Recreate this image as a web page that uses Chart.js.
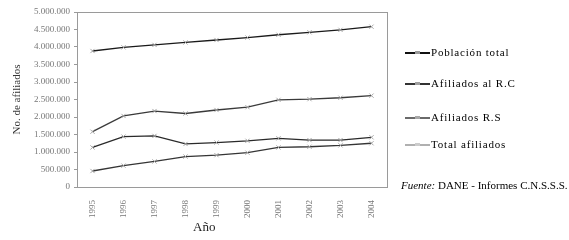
<!DOCTYPE html>
<html>
<head>
<meta charset="utf-8">
<script src="https://cdn.jsdelivr.net/npm/chart.js@4"></script>
<style>
  html, body { margin: 0; padding: 0; background: #fff; }
  #wrap { position: relative; width: 569px; height: 240px; font-family: "Liberation Serif", "DejaVu Serif", serif; color: #000; }
  #chart { position: absolute; left: 0; top: 0; }
  .leg { position: absolute; left: 405px; font-size: 11px; line-height: 12px; letter-spacing: 0.8px; white-space: nowrap; }
  .leg .sw { display: inline-block; position: relative; width: 25px; height: 12px; vertical-align: top; margin-right: 1px; }
  .leg .sw i { position: absolute; top: 6px; height: 2px; width: 10px; }
  .leg .sw b { position: absolute; top: 5px; left: 10px; width: 5px; height: 3px; }
  #xtitle { position: absolute; left: 193px; top: 219px; font-size: 13px; color: #222; }
  #fuente { position: absolute; left: 401px; top: 179px; font-size: 11px; white-space: nowrap; }
</style>
</head>
<body>
<div id="wrap">
  <canvas id="chart" width="569" height="240"></canvas>
  <div id="legend"></div>
  <div id="xtitle">Año</div>
  <div id="fuente"><i>Fuente:</i> DANE - Informes C.N.S.S.S.</div>
</div>
<script>
// === DATOS ===
const years = ['1995', '1996', '1997', '1998', '1999', '2000', '2001', '2002', '2003', '2004'];
const seriesNames = ['Población total', 'Afiliados al R.C', 'Afiliados R.S', 'Total afiliados'];
const poblacionTotal = [3886000, 3990000, 4060000, 4130000, 4200000, 4270000, 4350000, 4420000, 4490000, 4580000];
const afiliadosRC = [1130000, 1440000, 1460000, 1230000, 1270000, 1320000, 1390000, 1340000, 1340000, 1420000];
const afiliadosRS = [457000, 610000, 730000, 870000, 910000, 980000, 1130000, 1150000, 1190000, 1250000];
const totalAfiliados = [1580000, 2030000, 2170000, 2100000, 2200000, 2280000, 2490000, 2510000, 2550000, 2610000];
const yTickStep = 500000;
const yMax = 5000000;

const lineColors = ['#1a1a1a', '#2a2a2a', '#353535', '#3a3a3a'];
const legendLine = ['#111111', '#333333', '#6a6a6a', '#b0b0b0'];
const legendMark = ['#9a9a9a', '#a0a0a0', '#a8a8a8', '#cccccc'];
const legendTops = [46, 77, 111, 138];

const fmt = (v) => String(v).replace(/\B(?=(\d{3})+(?!\d))/g, '.');

// caja alrededor del area del grafico
const boxPlugin = {
    id: 'box',
    beforeDatasetsDraw(chart) {
        const { ctx, chartArea: a } = chart;
        ctx.save();
        ctx.strokeStyle = '#9a9a9a';
        ctx.lineWidth = 1;
        ctx.strokeRect(a.left + 0.5, a.top + 0.5, a.right - a.left, a.bottom - a.top);
        ctx.restore();
    }
};

const allSeries = [poblacionTotal, afiliadosRC, afiliadosRS, totalAfiliados];

new Chart(document.getElementById('chart'), {
    type: 'line',
    data: {
        labels: years,
        datasets: allSeries.map((vals, i) => ({
            label: seriesNames[i],
            data: vals,
            borderColor: lineColors[i],
            borderWidth: 1.3,
            tension: 0,
            pointStyle: 'crossRot',
            pointRadius: 3,
            pointBorderColor: '#a8a8a8',
            pointBorderWidth: 1,
            fill: false
        }))
    },
    options: {
        responsive: false,
        animation: false,
        layout: { padding: { top: 12, right: 182, bottom: 0, left: 0 } },
        plugins: {
            legend: { display: false },
            tooltip: { enabled: false }
        },
        scales: {
            x: {
                offset: true,
                grid: { display: false },
                border: { display: false },
                ticks: {
                    autoSkip: false,
                    minRotation: 90,
                    maxRotation: 90,
                    padding: 5,
                    color: '#777',
                    font: { family: 'Liberation Serif', size: 9 }
                },
                afterFit(scale) { scale.height = 53; }
            },
            y: {
                min: 0,
                max: yMax,
                grid: { display: true, drawOnChartArea: false, drawTicks: true, tickLength: 3, color: '#9a9a9a' },
                border: { display: false },
                ticks: {
                    stepSize: yTickStep,
                    padding: 4,
                    color: '#777',
                    font: { family: 'Liberation Serif', size: 9 },
                    callback: (v) => fmt(v)
                },
                title: {
                    display: true,
                    text: 'No. de afiliados',
                    color: '#333',
                    padding: { top: 11, bottom: 0 },
                    font: { family: 'Liberation Serif', size: 11 }
                },
                afterFit(scale) { scale.width = 77; }
            }
        }
    },
    plugins: [boxPlugin]
});

// === LEYENDA ===
const legendBox = document.getElementById('legend');
seriesNames.forEach((name, i) => {
    const row = document.createElement('div');
    row.className = 'leg';
    row.style.top = legendTops[i] + 'px';
    row.innerHTML = `<span class="sw"><i style="left:0;background:${legendLine[i]}"></i><b style="background:${legendMark[i]}"></b><i style="left:15px;background:${legendLine[i]}"></i></span>${name}`;
    legendBox.appendChild(row);
});
</script>
</body>
</html>
